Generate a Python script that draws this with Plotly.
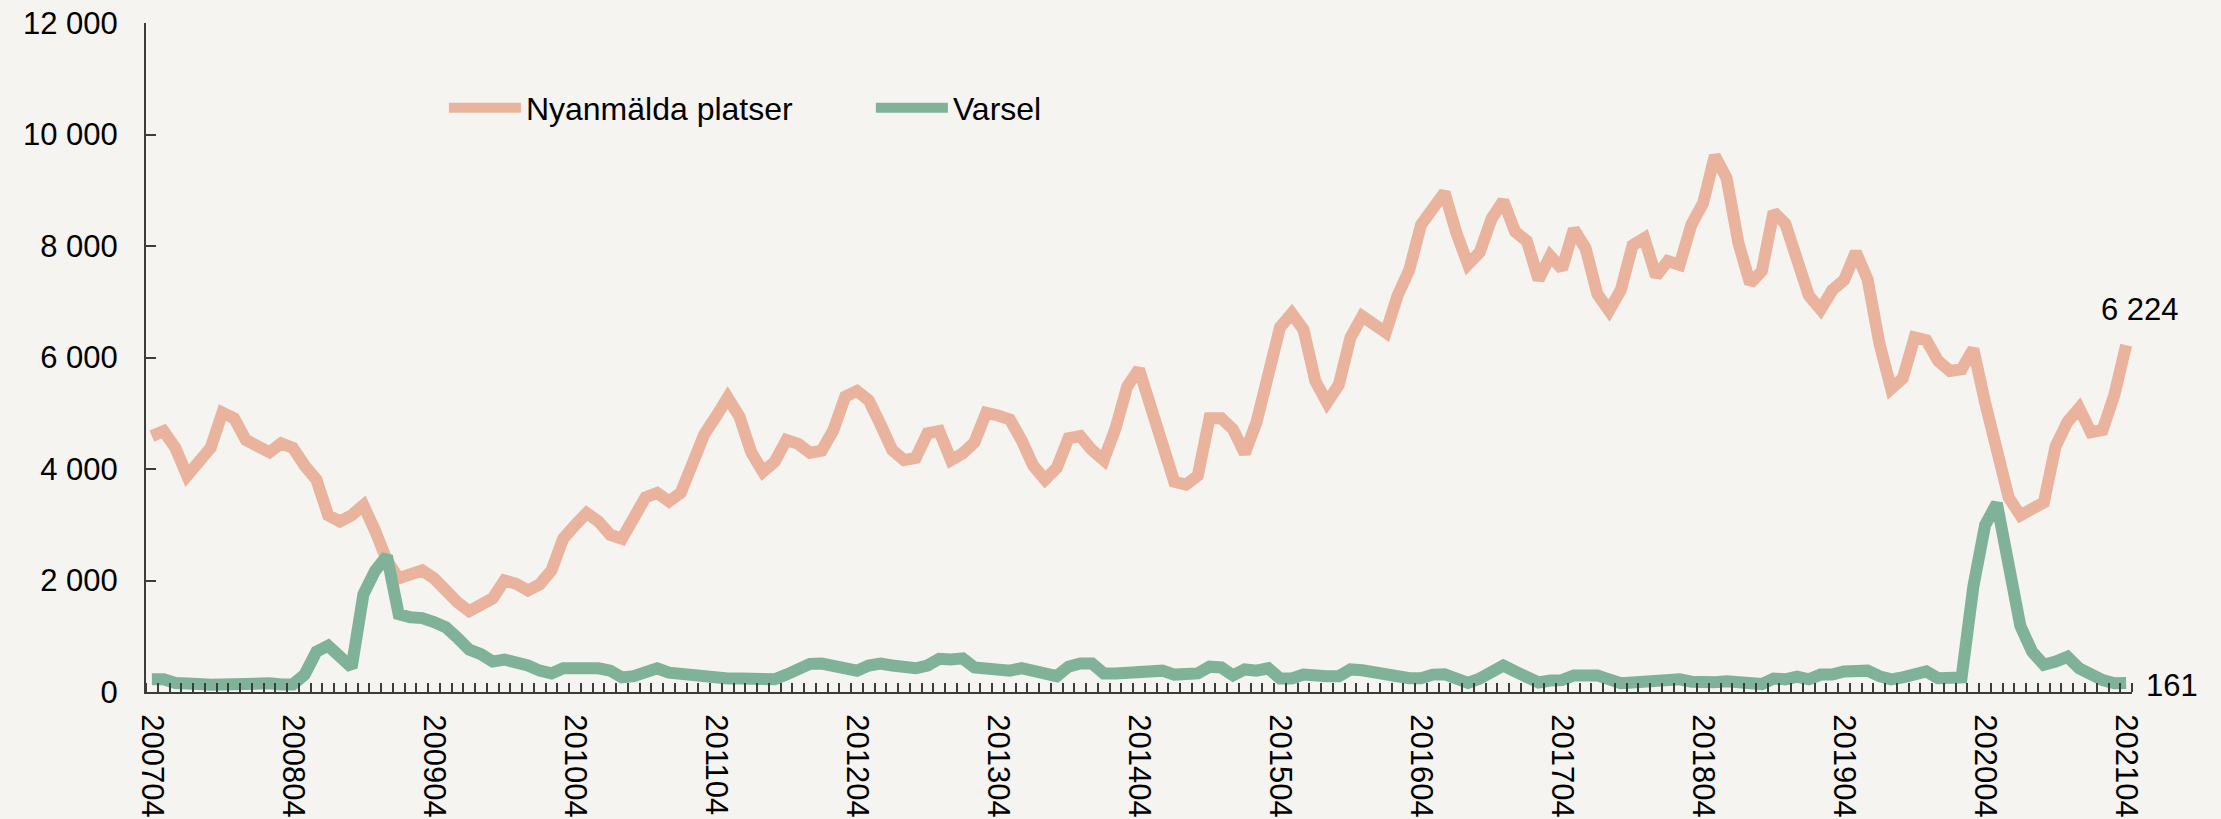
import plotly.graph_objects as go

# Categories: monthly periods 2007-04 .. 2021-04
months = []
for yr in range(2007, 2022):
    for m in range(1, 13):
        if (yr == 2007 and m < 4) or (yr == 2021 and m > 4):
            continue
        months.append(f"{yr}{m:02d}")

nyanmalda = [
    4590, 4680, 4380, 3880, 4130, 4380, 5010, 4910, 4520, 4380, 4300, 4460,
    4380, 4060, 3810, 3170, 3060, 3170, 3350, 2890, 2360, 2040, 2110, 2180,
    2040, 1800, 1610, 1450, 1560, 1680, 2000, 1940, 1820, 1930, 2180, 2750,
    2990, 3210, 3060, 2820, 2750, 3110, 3490, 3570, 3420, 3570, 4090, 4620,
    4940, 5280, 4940, 4300, 3950, 4130, 4520, 4450, 4290, 4330, 4700, 5300,
    5400, 5230, 4800, 4340, 4160, 4200, 4640, 4680, 4160, 4280, 4480, 5010,
    4960, 4890, 4520, 4060, 3810, 4020, 4550, 4590, 4340, 4160, 4730, 5480,
    5790, 5120, 4450, 3770, 3720, 3880, 4910, 4910, 4710, 4280, 4840, 5690,
    6540, 6790, 6500, 5580, 5190, 5510, 6360, 6740, 6610, 6450, 7110, 7570,
    8380, 8700, 8960, 8240, 7670, 7890, 8490, 8810, 8260, 8090, 7400, 7820,
    7590, 8300, 7960, 7140, 6840, 7210, 8010, 8140, 7460, 7730, 7660, 8380,
    8770, 9620, 9220, 8060, 7330, 7550, 8610, 8400, 7720, 7110, 6860, 7210,
    7390, 7890, 7400, 6260, 5440, 5630, 6360, 6310, 5940, 5760, 5790, 6150,
    5190, 4270, 3490, 3170, 3310, 3400, 4410, 4840, 5090, 4660, 4700, 5330,
    6224,
]

varsel = [
    227, 227, 160, 170, 142, 130, 142, 156, 170, 170, 156, 135,
    135, 312, 723, 830, 652, 440, 1752, 2177, 2440, 1397, 1340, 1326,
    1255, 1163, 972, 759, 680, 546, 582, 546, 475, 383, 333, 426,
    426, 475, 426, 383, 262, 284, 369, 426, 348, 319, 333, 298,
    284, 241, 241, 241, 227, 227, 312, 418, 505, 511, 468, 454,
    383, 475, 511, 475, 440, 426, 475, 596, 582, 603, 440, 404,
    404, 383, 426, 369, 355, 284, 454, 511, 511, 333, 333, 333,
    369, 355, 383, 312, 298, 333, 454, 440, 298, 404, 383, 426,
    241, 241, 312, 284, 284, 284, 404, 390, 355, 298, 262, 248,
    248, 312, 319, 241, 165, 241, 348, 475, 369, 284, 170, 206,
    213, 298, 298, 298, 227, 156, 170, 191, 206, 241, 227, 184,
    156, 177, 191, 177, 142, 142, 241, 227, 277, 227, 312, 312,
    369, 355, 383, 284, 227, 262, 312, 369, 248, 248, 262, 1894,
    2993, 3383, 2284, 1184, 723, 489, 546, 631, 426, 312, 213, 156,
    161,
]

series_names = ["Nyanmälda platser", "Varsel"]
y_ticks = [0, 2000, 4000, 6000, 8000, 10000, 12000]
label_months = months[::12]

ORANGE = "#EAB39E"
GREEN = "#7FB298"
BG = "#F5F4F0"
AXIS = "#3C3C3C"
FONT = "Liberation Sans, Arial, sans-serif"
FS = 31

x = list(range(len(months)))
label_pos = [months.index(m) for m in label_months]

fig = go.Figure()
fig.add_trace(go.Scatter(x=x, y=nyanmalda, mode="lines", name=series_names[0],
                         line=dict(color=ORANGE, width=12), hoverinfo="skip"))
fig.add_trace(go.Scatter(x=x, y=varsel, mode="lines", name=series_names[1],
                         line=dict(color=GREEN, width=12), hoverinfo="skip"))

fig.add_annotation(x=x[-1], y=nyanmalda[-1], text=f"{nyanmalda[-1]:,}".replace(",", " "),
                   showarrow=False, xanchor="center", yanchor="middle",
                   xshift=14, yshift=36, font=dict(size=FS, color="black", family=FONT))
fig.add_annotation(x=x[-1], y=varsel[-1], text=f"{varsel[-1]:,}".replace(",", " "),
                   showarrow=False, xanchor="left", yanchor="middle",
                   xshift=18, yshift=-2, font=dict(size=FS, color="black", family=FONT))

fig.update_layout(
    width=2221, height=819,
    margin=dict(l=146, r=89, t=23, b=127, autoexpand=False),
    paper_bgcolor=BG, plot_bgcolor=BG,
    font=dict(family=FONT, size=FS, color="black"),
    separators=", ",
    showlegend=True,
    legend=dict(orientation="h", x=0.150, y=0.873, xanchor="left", yanchor="middle",
                font=dict(size=32, family=FONT), bgcolor="rgba(0,0,0,0)",
                entrywidth=340, entrywidthmode="pixels", itemwidth=72),
    xaxis=dict(
        range=[-0.5, len(months) - 0.5],
        tickmode="array", tickvals=label_pos, ticktext=label_months,
        tickangle=90, ticks="", showgrid=False, zeroline=False,
        showline=True, linecolor=AXIS, linewidth=2,
        tickfont=dict(size=FS, family=FONT, color="black"),
        ticklabelstandoff=14,
        minor=dict(tickmode="linear", tick0=-0.5, dtick=1, ticks="inside",
                   ticklen=9, tickwidth=1.5, tickcolor=AXIS, showgrid=False),
    ),
    yaxis=dict(
        range=[0, 12000], tickmode="array", tickvals=y_ticks,
        tickformat=",d", ticks="inside", ticklen=10, tickwidth=1.5, tickcolor=AXIS,
        showgrid=False, zeroline=False, showline=True, linecolor=AXIS, linewidth=2,
        tickfont=dict(size=FS, family=FONT, color="black"),
        ticklabelstandoff=20,
    ),
)

fig.write_html(
    "out.html",
    config={"displayModeBar": False},
    post_script=f"document.body.style.margin='0';document.body.style.background='{BG}';",
)
